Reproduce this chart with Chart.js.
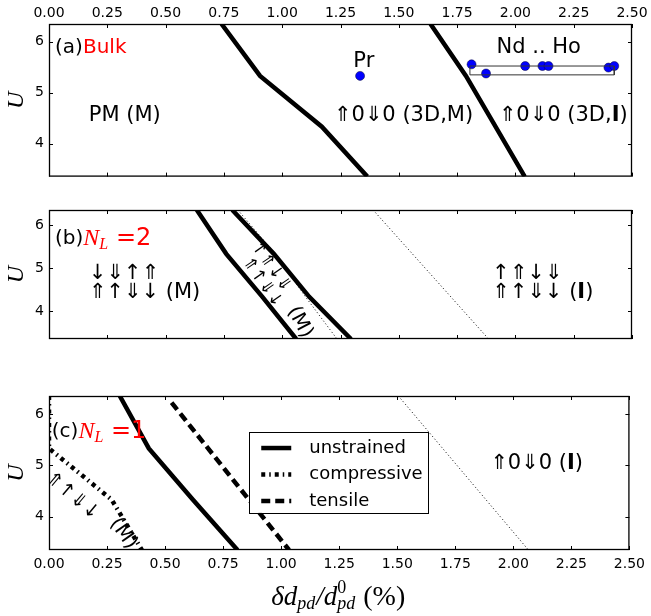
<!DOCTYPE html>
<html>
<head>
<meta charset="utf-8">
<script src="https://cdn.jsdelivr.net/npm/chart.js@4.4.1/dist/chart.umd.min.js"></script>
<style>
  body { margin: 0; background: #fff; }
  canvas { position: absolute; left: 0; }
</style>
</head>
<body>
<canvas id="panelA" width="651" height="190" style="top:0"></canvas>
<canvas id="panelB" width="651" height="185" style="top:190px"></canvas>
<canvas id="panelC" width="651" height="241" style="top:375px"></canvas>
<script>
const sans = '"DejaVu Sans", sans-serif'
const serif = '"Liberation Serif", "DejaVu Serif", serif'

// axes
const xTicks = [0, 0.25, 0.5, 0.75, 1, 1.25, 1.5, 1.75, 2, 2.25, 2.5]
const yTicks = [4, 5, 6]
const uGrid = [6.35, 5.33, 4.33, 3.35]

// (a) bulk
const bulkPmX = [0.74, 0.905, 1.17, 1.365]
const bulkInsX = [1.636, 1.788, 2.04]
const bulkInsU = [6.35, 5.33, 3.35]
const prX = [1.334]
const prU = [5.33]
const rareX = [1.812, 1.874, 2.042, 2.116, 2.142, 2.399, 2.424]
const rareU = [5.557, 5.377, 5.524, 5.524, 5.524, 5.493, 5.524]
const boxX = [1.805, 2.424, 2.424, 1.805, 1.805]
const boxU = [5.524, 5.524, 5.35, 5.35, 5.524]

// (b) N_L = 2
const nl2LeftX = [0.634, 0.76, 0.915, 1.06]
const nl2RightX = [0.786, 0.964, 1.116, 1.295]
const nl2DotInX = [0.81, 0.97, 1.10, 1.235]
const nl2DotOutX = [1.39, 1.885]
const nl2DotOutU = [6.35, 3.35]

// (c) N_L = 1
const nl1UnsX = [0.305, 0.43, 0.62, 0.812]
const nl1CompX = [0.0, 0.0, 0.27, 0.40]
const nl1TensX = [0.528, 1.034]
const nl1TensU = [6.22, 3.35]
const nl1DotX = [1.505, 2.065]
const nl1DotU = [6.35, 3.35]

const pts = (xs, ys) => xs.map((x, i) => ({ x, y: ys[i] }))

const thick = (label, data, dash) => ({
    label, data, showLine: true, borderColor: '#000', borderWidth: 4.5,
    borderDash: dash || [], pointRadius: 0, clip: 0, borderCapStyle: 'butt'
})
const dotted = data => ({
    data, showLine: true, borderColor: '#000', borderWidth: 1,
    borderDash: [1, 2.5], pointRadius: 0, clip: 0
})

// text helpers
const f = (size, style) => (style ? style + ' ' : '') + size + 'px ' + sans
const m = size => 'italic ' + size + 'px ' + serif

function drawRich(ctx, x, y, parts, align, rot) {
    ctx.save()
    ctx.translate(x, y)
    if (rot) ctx.rotate(rot * Math.PI / 180)
    ctx.textBaseline = 'middle'
    ctx.textAlign = 'left'
    let w = 0, last = 0
    const pos = parts.map(p => {
        ctx.font = p.f
        const pw = ctx.measureText(p.t).width
        let px
        if (p.stack) { px = last; w = Math.max(w, last + pw) }
        else { w += p.gap || 0; px = w; last = w; w += pw }
        return px
    })
    const start = align === 'left' ? 0 : -w / 2
    parts.forEach((p, i) => {
        ctx.font = p.f
        ctx.fillStyle = p.c || '#000'
        ctx.fillText(p.t, start + pos[i], p.dy || 0)
    })
    ctx.restore()
}

const nl = n => [
    { t: 'N', f: m(24), c: 'red' },
    { t: 'L', f: m(16), c: 'red', dy: 6 },
    { t: ' =' + n, f: f(24), c: 'red' }
]
const boldI = (pre, size) => [{ t: pre, f: f(size) }, { t: 'I', f: f(size, 'bold') }, { t: ')', f: f(size) }]

const notesA = [
    { x: 0.026, y: 5.89, align: 'left', parts: [{ t: '(a)', f: f(20) }, { t: 'Bulk', f: f(20), c: 'red' }] },
    { x: 1.35, y: 5.62, parts: [{ t: 'Pr', f: f(21) }] },
    { x: 2.10, y: 5.89, parts: [{ t: 'Nd .. Ho', f: f(21) }] },
    { x: 0.325, y: 4.55, parts: [{ t: 'PM (M)', f: f(21) }] },
    { x: 1.52, y: 4.55, parts: [{ t: '⇑0⇓0 (3D,M)', f: f(21) }] },
    { x: 2.205, y: 4.55, parts: boldI('⇑0⇓0 (3D,', 21) }
]
const notesB = [
    { x: 0.026, y: 5.68, align: 'left', parts: [{ t: '(b)', f: f(20) }].concat(nl(2)) },
    { x: 0.17, y: 4.88, align: 'left', parts: [{ t: '↓⇓↑⇑', f: f(21) }] },
    { x: 0.17, y: 4.43, align: 'left', parts: [{ t: '⇑↑⇓↓ (M)', f: f(21) }] },
    { x: 1.90, y: 4.88, align: 'left', parts: [{ t: '↑⇑↓⇓', f: f(21) }] },
    { x: 1.90, y: 4.43, align: 'left', parts: boldI('⇑↑⇓↓ (', 21) },
    { x: 0.952, y: 5.03, rot: 55, parts: [{ t: '↑⇑↓⇓', f: f(17) }] },
    { x: 0.914, y: 4.67, rot: 55, parts: [{ t: '⇑↑⇓↓', f: f(17) }] },
    { x: 1.075, y: 3.74, rot: 62, parts: [{ t: '(M)', f: f(20) }] }
]
const notesC = [
    { x: 0.012, y: 5.65, align: 'left', parts: [{ t: '(c)', f: f(20) }].concat(nl(1)) },
    { x: 2.10, y: 5.04, parts: boldI('⇑0⇓0 (', 21) },
    { x: 0.10, y: 4.40, rot: 40, parts: [{ t: '⇑↑⇓↓', f: f(19) }] },
    { x: 0.32, y: 3.67, rot: 55, parts: [{ t: '(M)', f: f(20) }] }
]

const decor = {
    id: 'decor',
    afterDatasetsDraw(chart, args, opts) {
        const ctx = chart.ctx
        const { left, right, top, bottom } = chart.chartArea
        const xs = chart.scales.x, ys = chart.scales.y
        ctx.save()
        ctx.strokeStyle = '#000'
        ctx.lineWidth = 1
        ctx.beginPath()
        xTicks.forEach(v => {
            const p = Math.round(xs.getPixelForValue(v)) + 0.5
            ctx.moveTo(p, top); ctx.lineTo(p, top + 4)
            ctx.moveTo(p, bottom); ctx.lineTo(p, bottom - 4)
        })
        yTicks.forEach(v => {
            const p = Math.round(ys.getPixelForValue(v)) + 0.5
            ctx.moveTo(left, p); ctx.lineTo(left + 4, p)
            ctx.moveTo(right, p); ctx.lineTo(right - 4, p)
        })
        ctx.stroke()
        ctx.lineWidth = 1.3
        ctx.strokeRect(left + 0.5, top + 0.5, right - left - 1, bottom - top - 1)

        // region labels
        opts.notes.forEach(n => drawRich(ctx, xs.getPixelForValue(n.x), ys.getPixelForValue(n.y), n.parts, n.align, n.rot))

        // y label
        drawRich(ctx, 17, (top + bottom) / 2, [{ t: 'U', f: m(24) }], 'center', -90)

        if (opts.legend) {
            const lx = left + 0.345 * (right - left), ly = top + 0.234 * (bottom - top)
            const lw = 0.308 * (right - left), lh = 0.525 * (bottom - top)
            ctx.fillStyle = '#fff'
            ctx.fillRect(lx, ly, lw, lh)
            ctx.lineWidth = 1
            ctx.strokeStyle = '#000'
            ctx.strokeRect(Math.round(lx) + 0.5, Math.round(ly) + 0.5, Math.round(lw), Math.round(lh))
            chart.data.datasets.filter(d => d.label).forEach((d, i) => {
                const ry = ly + 16 + i * 26.5
                ctx.save()
                ctx.lineWidth = d.borderWidth
                ctx.setLineDash(d.borderDash)
                ctx.lineCap = 'butt'
                ctx.beginPath()
                ctx.moveTo(lx + 12, ry); ctx.lineTo(lx + 42, ry)
                ctx.stroke()
                ctx.restore()
                drawRich(ctx, lx + 60, ry, [{ t: d.label, f: f(18) }], 'left')
            })
        }
        if (opts.xlabel) {
            drawRich(ctx, (left + right) / 2 - 1, bottom + 48, [
                { t: 'δd', f: m(27) },
                { t: 'pd', f: m(18), dy: 6 },
                { t: '/d', f: m(27), gap: 1 },
                { t: 'pd', f: m(18), dy: 6 },
                { t: '0', f: '18px ' + serif, dy: -10, stack: true },
                { t: '(%)', f: '28px ' + serif, gap: 8 }
            ], 'center')
        }
        ctx.restore()
    }
}

function panel(id, datasets, notes, xPos, xShow, pad, extra) {
    return new Chart(document.getElementById(id), {
        type: 'scatter',
        data: { datasets },
        plugins: [decor],
        options: {
            responsive: false,
            animation: false,
            events: [],
            layout: { padding: pad },
            plugins: {
                legend: { display: false },
                tooltip: { enabled: false },
                decor: Object.assign({ notes }, extra)
            },
            scales: {
                x: {
                    type: 'linear', position: xPos, display: xShow, min: 0, max: 2.5,
                    grid: { display: false, drawTicks: false }, border: { display: false },
                    afterBuildTicks: s => { s.ticks = xTicks.map(v => ({ value: v })) },
                    afterFit: s => { s.height = xPos === 'top' ? 24 : 25 },
                    ticks: { color: '#000', padding: xPos === 'top' ? 2 : 6, maxRotation: 0,
                             font: { family: sans, size: 14 }, callback: v => v.toFixed(2) }
                },
                y: {
                    type: 'linear', min: 3.35, max: 6.35,
                    grid: { display: false, drawTicks: false }, border: { display: false },
                    afterBuildTicks: s => { s.ticks = yTicks.map(v => ({ value: v })) },
                    afterFit: s => { s.width = 49 },
                    ticks: { color: '#000', padding: 5, font: { family: sans, size: 14 } }
                }
            }
        }
    })
}

panel('panelA', [
    thick('', pts(bulkPmX, uGrid)),
    thick('', pts(bulkInsX, bulkInsU)),
    { data: pts(boxX, boxU), showLine: true, borderColor: '#333', borderWidth: 1, pointRadius: 0 },
    { data: pts(prX, prU), backgroundColor: '#0000ff', borderColor: '#000033', borderWidth: 0.5, pointRadius: 4.5 },
    { data: pts(rareX, rareU), backgroundColor: '#0000ff', borderColor: '#000033', borderWidth: 0.5, pointRadius: 4.5 }
], notesA, 'top', true, { left: 0, right: 19, top: 0, bottom: 11 })

panel('panelB', [
    dotted(pts(nl2DotInX, uGrid)),
    dotted(pts(nl2DotOutX, nl2DotOutU)),
    thick('', pts(nl2LeftX, uGrid)),
    thick('', pts(nl2RightX, uGrid))
], notesB, 'bottom', false, { left: 0, right: 19, top: 20, bottom: 11 })

panel('panelC', [
    dotted(pts(nl1DotX, nl1DotU)),
    thick('unstrained', pts(nl1UnsX, uGrid)),
    thick('compressive', pts(nl1CompX, uGrid), [4, 4, 1.5, 4]),
    thick('tensile', pts(nl1TensX, nl1TensU), [9, 5])
], notesC, 'bottom', true, { left: 0, right: 19, top: 21, bottom: 41 }, { legend: true, xlabel: true })
</script>
</body>
</html>
